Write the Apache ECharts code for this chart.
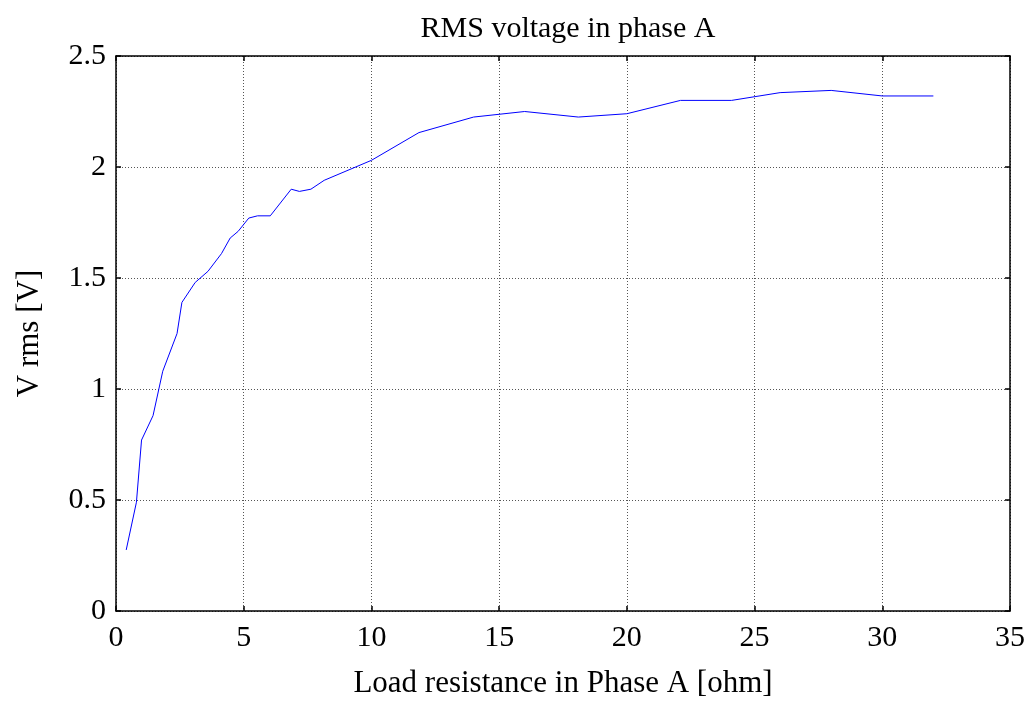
<!DOCTYPE html>
<html>
<head>
<meta charset="utf-8">
<script src="https://cdn.jsdelivr.net/npm/echarts@6/dist/echarts.min.js"></script>
<style>
  html, body { margin: 0; padding: 0; background: #fff; }
  #chart { width: 1030px; height: 704px; }
</style>
</head>
<body>
<div id="chart"></div>
<script>
// Load resistance in phase A [ohm]
const resistance = [0.4, 0.8, 1.0, 1.45, 1.83, 2.39, 2.58, 3.1, 3.6, 4.13, 4.47, 4.78, 5.2, 5.54, 6.04,
  6.86, 7.18, 7.63, 8.15, 10, 11.86, 14, 16, 18.1, 20, 22.1, 24.1, 26, 28, 30, 32];
// RMS voltage in phase A [V]
const vrms = [0.275, 0.49, 0.77, 0.88, 1.08, 1.25, 1.39, 1.48, 1.53, 1.61, 1.68, 1.71, 1.77, 1.78, 1.78,
  1.90, 1.89, 1.90, 1.94, 2.03, 2.155, 2.225, 2.25, 2.225, 2.24, 2.30, 2.30, 2.335, 2.345, 2.32, 2.32];

const xTicks = { min: 0, max: 35, interval: 5 };
const yTicks = { min: 0, max: 2.5, interval: 0.5 };

const serif = '"Liberation Serif", "DejaVu Serif", serif';
const points = resistance.map((r, i) => [r, vrms[i]]);

const gridDash = { color: '#555', width: 1, type: [1, 2] };
const frameLine = { show: true, onZero: false, lineStyle: { color: '#000', width: 1.5 } };
const innerTick = { show: true, inside: true, length: 5, lineStyle: { color: '#000', width: 1.5 } };

const chart = echarts.init(document.getElementById('chart'), null, { renderer: 'canvas' });
chart.setOption({
  animation: false,
  backgroundColor: '#fff',
  title: {
    text: 'RMS voltage in phase A',
    left: 563, top: 9, textAlign: 'center',
    textStyle: { fontFamily: serif, fontSize: 30, fontWeight: 'normal', color: '#000' }
  },
  grid: { left: 116, right: 20, top: 56, bottom: 93 },
  xAxis: [
    {
      type: 'value', ...xTicks, position: 'bottom',
      name: 'Load resistance in Phase A [ohm]', nameLocation: 'middle', nameGap: 57,
      nameTextStyle: { fontFamily: serif, fontSize: 31, color: '#000' },
      axisLine: frameLine, axisTick: innerTick,
      axisLabel: { fontFamily: serif, fontSize: 30, color: '#000', margin: 12 },
      splitLine: { show: true, lineStyle: gridDash }
    },
    {
      type: 'value', ...xTicks, position: 'top',
      axisLine: frameLine, axisTick: innerTick,
      axisLabel: { show: false }, splitLine: { show: false }
    }
  ],
  yAxis: [
    {
      type: 'value', ...yTicks, position: 'left',
      name: 'V rms [V]', nameLocation: 'middle', nameGap: 71, nameRotate: 90,
      nameTextStyle: { fontFamily: serif, fontSize: 31, color: '#000' },
      axisLine: frameLine, axisTick: innerTick,
      axisLabel: { fontFamily: serif, fontSize: 30, color: '#000', margin: 10 },
      splitLine: { show: true, lineStyle: gridDash }
    },
    {
      type: 'value', ...yTicks, position: 'right',
      axisLine: frameLine, axisTick: innerTick,
      axisLabel: { show: false }, splitLine: { show: false }
    }
  ],
  series: [{
    type: 'line',
    data: points,
    showSymbol: false,
    lineStyle: { color: '#0000ff', width: 1 },
    xAxisIndex: 0, yAxisIndex: 0
  }]
});
</script>
</body>
</html>
